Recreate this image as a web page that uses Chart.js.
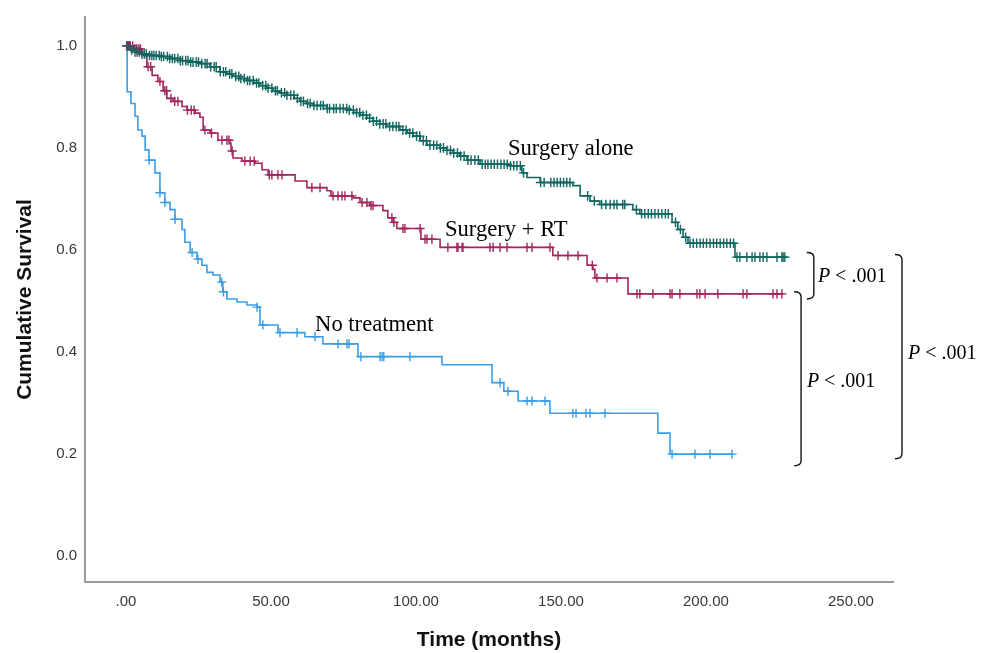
<!DOCTYPE html>
<html>
<head>
<meta charset="utf-8">
<script src="https://cdn.jsdelivr.net/npm/chart.js@4.4.1/dist/chart.umd.min.js"></script>
<style>
  html, body { margin: 0; padding: 0; background: #fff; }
  canvas { display: block; }
</style>
</head>
<body>
<canvas id="km" width="987" height="653"></canvas>
<script>
// Kaplan-Meier estimates: event times (months) and survival after each event.
const surgeryAloneTimes = [0, 1.5, 3.0, 4.8, 8.0, 11.7, 15.0, 18.6, 22.0, 25.5, 29.0, 32.4, 34.5, 36.9, 39.0, 41.7, 44.0, 46.2, 48.5, 50.7, 53.0, 55.5, 58.0, 60.0, 62.3, 64.5, 69.3, 76.2, 78.5, 80.7, 83.0, 85.2, 87.5, 90.0, 94.5, 97.0, 99.0, 101.5, 103.8, 108.3, 110.5, 112.8, 115.0, 117.6, 122.1, 132.4, 136.5, 138.3, 142.8, 154.1, 156.6, 160.0, 163.4, 174.8, 177.2, 188.3, 190.3, 192.1, 193.8, 210.0, 227.5];
const surgeryAloneSurv  = [1.0, 0.992, 0.988, 0.984, 0.981, 0.979, 0.975, 0.971, 0.968, 0.965, 0.959, 0.949, 0.945, 0.940, 0.936, 0.932, 0.927, 0.922, 0.917, 0.912, 0.908, 0.903, 0.897, 0.891, 0.887, 0.883, 0.877, 0.874, 0.869, 0.864, 0.858, 0.852, 0.847, 0.842, 0.835, 0.829, 0.823, 0.814, 0.805, 0.800, 0.795, 0.790, 0.784, 0.776, 0.768, 0.765, 0.751, 0.742, 0.732, 0.726, 0.706, 0.696, 0.689, 0.679, 0.671, 0.654, 0.640, 0.625, 0.613, 0.586, 0.586];
const surgeryAloneCensored = [0.5, 1.2, 2.0, 3.1, 3.8, 4.6, 5.5, 6.3, 7.0, 8.1, 8.9, 9.6, 10.4, 11.5, 12.2, 13.0, 14.3, 15.1, 16.0, 16.8, 17.9, 18.7, 19.5, 20.6, 21.4, 22.3, 23.1, 24.2, 25.0, 26.1, 27.3, 28.0, 29.2, 30.4, 31.1, 32.5, 33.6, 34.4, 35.7, 36.5, 37.8, 38.9, 39.6, 40.8, 41.9, 42.7, 43.9, 45.0, 45.8, 47.1, 48.2, 49.0, 50.3, 51.5, 52.2, 53.6, 54.7, 55.5, 56.8, 57.9, 59.1, 60.3, 61.2, 62.6, 63.5, 64.8, 65.9, 67.1, 68.0, 69.4, 70.2, 71.6, 72.5, 73.8, 74.9, 76.1, 77.0, 78.4, 79.5, 80.6, 81.7, 82.9, 84.0, 85.3, 86.4, 87.5, 88.7, 89.6, 90.9, 92.0, 93.2, 94.1, 95.5, 96.6, 97.8, 98.9, 100.2, 101.3, 102.5, 103.6, 104.8, 106.1, 107.2, 108.4, 109.5, 110.7, 111.9, 113.0, 114.3, 115.4, 116.6, 117.9, 119.0, 120.3, 121.5, 122.8, 123.9, 124.8, 125.9, 127.0, 128.1, 129.3, 130.4, 131.5, 132.6, 133.7, 134.8, 136.0, 137.1, 143.0, 144.2, 146.5, 147.6, 148.7, 149.8, 150.9, 152.0, 153.1, 159.2, 161.5, 164.0, 165.5, 167.0, 168.3, 169.3, 171.3, 172.0, 176.0, 177.8, 178.9, 180.1, 181.2, 182.4, 183.6, 184.8, 186.0, 187.0, 189.5, 191.2, 193.0, 194.5, 195.6, 196.8, 198.0, 199.1, 200.2, 201.4, 202.6, 203.7, 204.9, 206.1, 207.2, 208.4, 209.5, 210.7, 211.7, 214.1, 215.9, 216.9, 218.6, 219.7, 221.0, 224.5, 226.2, 226.6, 227.2];

const surgeryRtTimes = [0, 2.5, 5.5, 7.2, 9.0, 11.0, 12.8, 14.1, 16.2, 19.3, 21.0, 23.8, 25.5, 26.6, 29.0, 31.7, 35.9, 36.2, 36.9, 40.0, 44.5, 46.9, 49.0, 58.3, 62.4, 69.3, 70.7, 78.3, 80.7, 84.1, 88.6, 90.3, 92.1, 93.4, 101.7, 108.3, 147.2, 159.0, 161.0, 161.7, 173.1, 226.6];
const surgeryRtSurv  = [1.0, 0.994, 0.981, 0.959, 0.942, 0.930, 0.912, 0.897, 0.891, 0.881, 0.874, 0.868, 0.860, 0.835, 0.829, 0.815, 0.809, 0.794, 0.780, 0.774, 0.770, 0.757, 0.747, 0.735, 0.722, 0.716, 0.706, 0.702, 0.693, 0.687, 0.677, 0.663, 0.654, 0.642, 0.621, 0.605, 0.589, 0.570, 0.562, 0.545, 0.514, 0.514];
const surgeryRtCensored = [0.2, 0.8, 1.5, 2.3, 3.0, 3.7, 4.4, 5.0, 7.6, 8.5, 11.7, 13.4, 14.0, 15.5, 16.8, 17.9, 21.2, 22.5, 23.5, 27.2, 29.5, 33.1, 34.8, 35.5, 36.6, 41.0, 42.8, 44.2, 49.4, 50.3, 52.4, 53.8, 64.1, 66.9, 71.4, 73.1, 74.5, 75.5, 77.9, 81.4, 83.1, 84.5, 85.2, 91.7, 92.4, 95.5, 96.2, 101.4, 103.1, 103.8, 105.5, 111.0, 114.1, 114.5, 115.9, 116.2, 125.5, 126.6, 129.0, 131.4, 138.3, 140.0, 146.2, 149.0, 152.4, 155.9, 160.8, 162.4, 165.9, 169.3, 176.2, 177.2, 181.7, 187.6, 188.3, 191.0, 196.9, 197.9, 199.7, 204.1, 212.8, 214.1, 223.1, 224.5, 226.2];

const noTreatmentTimes = [0, 0.4, 1.7, 3.1, 4.1, 5.5, 6.6, 7.9, 10.0, 11.7, 13.4, 15.2, 16.9, 19.3, 20.3, 22.1, 24.5, 26.2, 27.9, 30.0, 32.4, 33.4, 34.8, 38.3, 41.7, 45.2, 46.2, 52.4, 61.7, 67.9, 80.0, 109.0, 126.2, 130.3, 135.2, 146.2, 183.4, 187.6, 209.0];
const noTreatmentSurv  = [1.0, 0.910, 0.887, 0.862, 0.835, 0.823, 0.796, 0.776, 0.751, 0.712, 0.693, 0.679, 0.660, 0.640, 0.615, 0.595, 0.582, 0.570, 0.556, 0.551, 0.537, 0.518, 0.504, 0.498, 0.492, 0.488, 0.453, 0.438, 0.430, 0.416, 0.391, 0.375, 0.340, 0.323, 0.304, 0.280, 0.241, 0.200, 0.200];
const noTreatmentCensored = [8.0, 11.7, 13.4, 16.9, 22.8, 24.8, 33.0, 33.6, 45.2, 47.2, 53.1, 59.0, 65.2, 73.1, 76.2, 76.9, 81.0, 87.6, 88.3, 88.9, 97.9, 129.0, 131.7, 138.3, 140.0, 144.5, 154.1, 155.2, 158.6, 160.0, 165.2, 188.3, 196.2, 201.4, 209.0];

// Axis ticks
const xTickValues = [0, 50, 100, 150, 200, 250];
const xTickLabels = ['.00', '50.00', '100.00', '150.00', '200.00', '250.00'];
const yTickValues = [0, 0.2, 0.4, 0.6, 0.8, 1.0];
const yTickLabels = ['0.0', '0.2', '0.4', '0.6', '0.8', '1.0'];

const groups = [
  { name: 'Surgery alone', times: surgeryAloneTimes, surv: surgeryAloneSurv, censored: surgeryAloneCensored, color: '#116660', cross: 4.8 },
  { name: 'Surgery + RT',  times: surgeryRtTimes,    surv: surgeryRtSurv,    censored: surgeryRtCensored,    color: '#a2255d', cross: 4.6 },
  { name: 'No treatment',  times: noTreatmentTimes,  surv: noTreatmentSurv,  censored: noTreatmentCensored,  color: '#3a9de6', cross: 4.6 }
];

// Survival level of a step curve at time t
function survAt(g, t) {
  let s = g.surv[0];
  for (let i = 0; i < g.times.length; i++) {
    if (g.times[i] <= t) s = g.surv[i]; else break;
  }
  return s;
}

const datasets = [];
groups.forEach(g => {
  datasets.push({
    type: 'line',
    label: g.name,
    data: g.times.map((t, i) => ({ x: t, y: g.surv[i] })),
    stepped: 'before',
    borderColor: g.color,
    borderWidth: 1.6,
    pointRadius: 0,
    fill: false
  });
  datasets.push({
    type: 'line',
    label: g.name + ' censored',
    data: g.censored.map(t => ({ x: t, y: survAt(g, t) })),
    showLine: false,
    pointStyle: 'cross',
    pointRadius: g.cross,
    pointBorderWidth: 1.4,
    pointBorderColor: g.color,
    borderColor: g.color
  });
});

// Curve names and log-rank comparisons, placed in axis units
const curveLabels = [
  { text: 'Surgery alone', t: 131.7, s: 0.797 },
  { text: 'Surgery + RT',  t: 110.0, s: 0.638 },
  { text: 'No treatment',  t: 65.2,  s: 0.453 }
];
const comparisons = [
  { t: 237.2, from: 0.595, to: 0.504, labelT: 238.6, labelS: 0.547, text: ' < .001' },
  { t: 232.8, from: 0.518, to: 0.177, labelT: 234.8, labelS: 0.342, text: ' < .001' },
  { t: 267.6, from: 0.591, to: 0.191, labelT: 269.7, labelS: 0.397, text: ' < .001' }
];

const annotate = {
  id: 'annotate',
  afterDraw(chart) {
    const { ctx } = chart;
    const x = chart.scales.x, y = chart.scales.y;
    ctx.save();
    ctx.fillStyle = '#000';
    ctx.textBaseline = 'middle';
    ctx.textAlign = 'left';
    ctx.font = '22.6px "Liberation Serif", "Times New Roman", serif';
    curveLabels.forEach(l => ctx.fillText(l.text, x.getPixelForValue(l.t), y.getPixelForValue(l.s)));

    ctx.strokeStyle = '#111';
    ctx.lineWidth = 1.4;
    comparisons.forEach(c => {
      const xv = x.getPixelForValue(c.t);
      const y0 = y.getPixelForValue(c.from), y1 = y.getPixelForValue(c.to);
      ctx.beginPath();
      ctx.moveTo(xv - 7, y0);
      ctx.quadraticCurveTo(xv, y0, xv, y0 + 5);
      ctx.lineTo(xv, y1 - 5);
      ctx.quadraticCurveTo(xv, y1, xv - 7, y1);
      ctx.stroke();
      const lx = x.getPixelForValue(c.labelT), ly = y.getPixelForValue(c.labelS);
      ctx.font = 'italic 20px "Liberation Serif", "Times New Roman", serif';
      ctx.fillText('P', lx, ly);
      const w = ctx.measureText('P').width;
      ctx.font = '20px "Liberation Serif", "Times New Roman", serif';
      ctx.fillText(c.text, lx + w, ly);
    });
    ctx.restore();
  }
};

const tickFont = { family: '"Liberation Sans", Arial, sans-serif', size: 15 };
const titleFont = { family: '"Liberation Sans", Arial, sans-serif', size: 21, weight: 'bold' };

new Chart(document.getElementById('km'), {
  type: 'line',
  data: { datasets },
  plugins: [annotate],
  options: {
    responsive: false,
    animation: false,
    layout: { padding: { left: 0, top: 13, right: 94, bottom: 0 } },
    plugins: { legend: { display: false }, tooltip: { enabled: false } },
    scales: {
      x: {
        type: 'linear',
        min: -14.14,
        max: 264.5,
        afterBuildTicks: s => { s.ticks = xTickValues.map(v => ({ value: v })); },
        afterFit: s => { s.height = 71; },
        grid: { display: false, drawTicks: false },
        border: { display: true, color: '#9b9b9b', width: 2 },
        ticks: { autoSkip: false, maxRotation: 0, padding: 11, color: '#383838', font: tickFont,
                 callback: (v, i) => xTickLabels[i] },
        title: { display: true, text: 'Time (months)', color: '#111', font: titleFont, padding: { top: 0, bottom: 0 } }
      },
      y: {
        type: 'linear',
        min: -0.0506,
        max: 1.0564,
        afterBuildTicks: s => { s.ticks = yTickValues.map(v => ({ value: v })); },
        afterFit: s => { s.width = 85; },
        grid: { display: false, drawTicks: false },
        border: { display: true, color: '#9b9b9b', width: 2 },
        ticks: { autoSkip: false, padding: 8, color: '#383838', font: tickFont,
                 callback: (v, i) => yTickLabels[i] },
        title: { display: true, text: 'Cumulative Survival', color: '#111', font: titleFont, padding: { top: 13, bottom: 0 } }
      }
    }
  }
});
</script>
</body>
</html>
